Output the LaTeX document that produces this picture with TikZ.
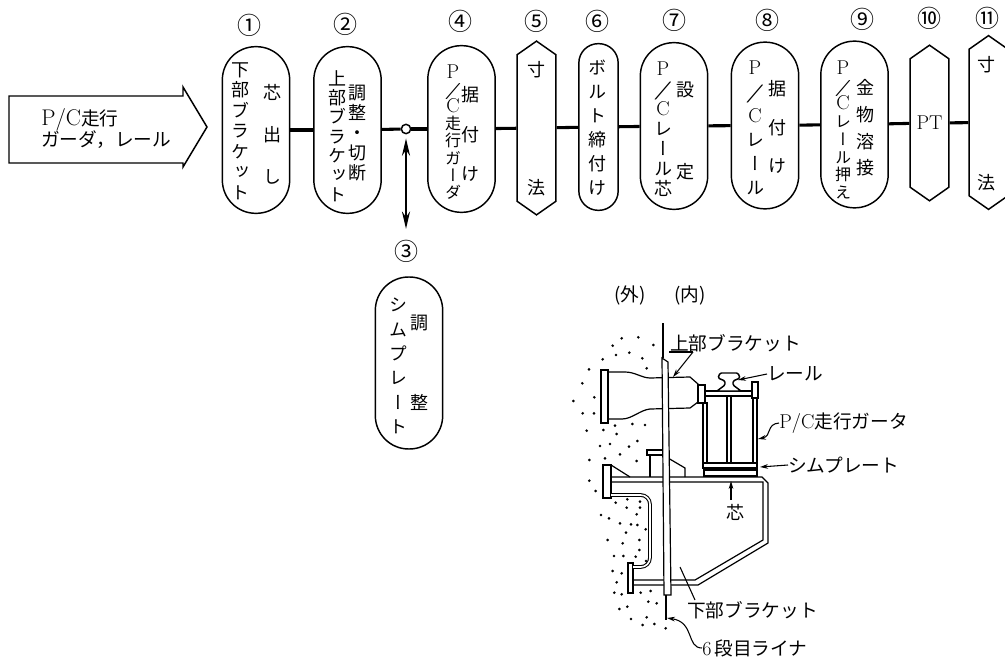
\documentclass[tikz,border=0pt]{standalone}
\usepackage{fontspec}
\usetikzlibrary{arrows.meta, shapes.symbols}
\newfontfamily\cjk{Noto Sans CJK JP}
\newfontfamily\cjkv[RawFeature=+vert]{Noto Sans CJK JP}
\newcommand{\lat}[2][15]{{\normalfont\fontsize{#1}{#1}\selectfont #2}}
\newcommand{\slashpc}{\smash{\scalebox{2.4}[1]{\normalfont /}}}
\tikzstyle{stepcap}=[draw, line width=1.1pt, rectangle, rounded corners=25pt, minimum width=50.5pt, minimum height=125pt, inner sep=0pt]
\tikzstyle{stepthin}=[stepcap, rounded corners=14.5pt, minimum width=29.5pt]
\tikzstyle{gauge}=[draw, line width=1.1pt, signal, signal to=north and south, signal pointer angle=110, minimum width=29pt, minimum height=110pt, inner sep=0pt]
\tikzstyle{link}=[line width=2.3pt]
\tikzstyle{num}=[font=\cjk\fontsize{18}{20}\selectfont, inner sep=0pt]
\tikzstyle{hlab}=[font=\cjk\fontsize{14}{16}\selectfont, anchor=west, inner sep=0pt]
\tikzstyle{part}=[line width=.9pt, fill=white]
\tikzstyle{leader}=[line width=.8pt, -{Stealth[length=6pt,width=3.5pt]}]
\tikzset{
	vcol/.style={font=\cjkv\fontsize{13.5}{#1}\selectfont, align=center, inner sep=0pt},
	vsmall/.style={font=\cjkv\fontsize{12}{#1}\selectfont, align=center, inner sep=0pt}
}

\begin{document}
\begin{tikzpicture}[x=0.75pt, y=-0.75pt]
	\useasboundingbox (0,0) rectangle (1005,659);

	% Feed arrow
	\draw[line width=1.1pt] (9,96) -- (183,96) -- (183,87) -- (207,127) -- (183,167) -- (183,163) -- (9,163) -- cycle;
	\node[font=\cjk\fontsize{14}{15}\selectfont, anchor=west, inner sep=0pt] (feedA) at (41,120) {\lat[17]{P/C}走行};
	\node[font=\cjk\fontsize{14}{15}\selectfont, anchor=west, inner sep=0pt] (feedB) at (41,140) {ガーダ，レール};

	% Process steps
	\node[stepcap] (c1) at (256,130) {};
	\node[stepcap] (c2) at (347.5,130) {};
	\node[stepcap] (c4) at (461.5,129) {};
	\node[gauge] (c5) at (536.5,128) {};
	\node[stepthin] (c6) at (598.5,127) {};
	\node[stepcap] (c7) at (674,126) {};
	\node[stepcap] (c8) at (765,125.5) {};
	\node[stepcap] (c9) at (854.5,124.5) {};
	\node[gauge] (c10) at (929.5,123) {\lat{PT}};
	\node[gauge] (c11) at (988.5,122.5) {};
	\node[stepcap, minimum height=129pt] (c3) at (409,363) {};
	\node[circle, draw, line width=1.1pt, fill=white, minimum size=7pt, inner sep=0pt] (junction) at (406,129) {};

	\node[num] (n1) at (249,25) {①};
	\node[num] (n2) at (345,24) {②};
	\node[num] (n3) at (406,251) {③};
	\node[num] (n4) at (460,21) {④};
	\node[num] (n5) at (536,21) {⑤};
	\node[num] (n6) at (597,21) {⑥};
	\node[num] (n7) at (674,20) {⑦};
	\node[num] (n8) at (767,20) {⑧};
	\node[num] (n9) at (862,19) {⑨};
	\node[num] (n10) at (929,18) {⑩};
	\node[num] (n11) at (987,18) {⑪};

	\draw[link] (c1) -- (c2);
	\draw[link] (c2) -- (junction);
	\draw[link] (junction) -- (c4);
	\draw[link] (c4) -- (c5);
	\draw[link] (c5) -- (c6);
	\draw[link] (c6) -- (c7);
	\draw[link] (c7) -- (c8);
	\draw[link] (c8) -- (c9);
	\draw[link] (c9) -- (c10);
	\draw[link] (c10) -- (c11);
	\draw[line width=1.8pt, {Stealth[length=13pt,width=6pt]}-{Stealth[length=13pt,width=6pt]}, shorten <=3pt, shorten >=8pt] (junction.south) -- (n3.north);

	% Step texts
	\node[vcol=15.4] (t1a) at (240,131) {下\\部\\ブ\\ラ\\ケ\\ッ\\ト};
	\node[vcol=31.5] (t1b) at (272,134) {芯\\出\\し};
	\node[vcol=14.5] (t2a) at (337,136) {上\\部\\ブ\\ラ\\ケ\\ッ\\ト};
	\node[vcol=15] (t2b) at (357,133) {調\\整\\・\\切\\断};
	\node[vsmall=12.9] (t4a) at (453,132) {\lat{P}\\\slashpc\\\lat{C}\\走\\行\\ガ\\ー\\ダ};
	\node[vcol=29.5] (t4b) at (470,134) {据\\付\\け};
	\node[vcol=88.5] (t5) at (536,129) {寸\\法};
	\node[vcol=18] (t6) at (597,128) {ボ\\ル\\ト\\締\\付\\け};
	\node[vcol=15] (t7a) at (663,129) {\lat{P}\\\slashpc\\\lat{C}\\レ\\ー\\ル\\芯};
	\node[vcol=61.5] (t7b) at (685,131) {設\\定};
	\node[vcol=18] (t8a) at (755,128) {\lat{P}\\\slashpc\\\lat{C}\\レ\\ー\\ル};
	\node[vcol=29] (t8b) at (777,127) {据\\付\\け};
	\node[vsmall=13.3] (t9a) at (843,130) {\lat{P}\\\slashpc\\\lat{C}\\レ\\ー\\ル\\押\\え};
	\node[vcol=20] (t9b) at (865,128) {金\\物\\溶\\接};
	\node[vcol=88.5] (t11) at (986,124) {寸\\法};
	\node[vcol=18.3] (t3a) at (398,366) {シ\\ム\\プ\\レ\\ー\\ト};
	\node[vcol=60] (t3b) at (419,363) {調\\整};

	% Concrete dots
	\foreach \x/\y in {305/175,355/172,278/197,400/195,328/218,288/225,248/238,367/235,207/268,380/265,187/310,223/352,160/363,188/400,222/400,200/452,250/450,285/437,337/432,375/435,290/462,240/498,270/492,327/500,352/483,300/523,208/540,255/535,350/543}{
		\fill (520+\x/3,280+\y/3) circle (1.1pt);
	}
	\foreach \x/\y in {208/62,227/93,287/128,322/118,360/125,320/143,360/143,243/165,267/175,350/163,300/190,333/193,352/195,377/208,318/218,263/240,308/250,358/240,358/270,282/288,310/288,347/290,378/303,278/333,305/340,290/367,283/398,305/403,362/398,392/393,298/447,322/440,385/425,410/430,333/477,380/472,368/495,403/492,437/505}{
		\fill (520+\x/3,460+\y/3) circle (1.1pt);
	}

	% Upper bracket
	\draw[part] (608,372) -- (625,372) .. controls (635,372) and (642,378) .. (650,378) -- (690,377) -- (698,384) -- (698,402) -- (690,408) -- (650,409) .. controls (640,410) and (632,419) .. (622,419) -- (608,419);
	\draw[part] (601,370) rectangle (608,423);
	\draw[part] (698,385) rectangle (705,403);

	% Girder, rail and shim
	\draw[part] (703,403) rectangle (707,463);
	\draw[part] (727,395) rectangle (731,463);
	\draw[part] (753,396) rectangle (757,463);
	\draw[part] (705,391) rectangle (752,396);
	\draw[part] (752,382) rectangle (758,398);
	\draw[part] (703,463) rectangle (757,468);
	\draw[part] (704,470) rectangle (757,476);
	\draw[part, line width=1.1pt, rounded corners=1pt] (720,373) -- (738,373) -- (740,378) -- (733,381) -- (733,385) -- (741,391) -- (717,391) -- (725,385) -- (725,381) -- (718,378) -- cycle;

	% Lower bracket
	\draw[line width=.9pt] (611,477) -- (762,477) -- (768,483) -- (768,543) -- (698,585) -- (633,585);
	\draw[line width=.9pt] (611,482) -- (763,482) -- (763,540) -- (695,580) -- (633,580);
	\draw[line width=.9pt] (611,465) -- (630,477);
	\draw[part] (603,465) rectangle (611,498);
	\draw[part] (628,563) rectangle (633,593);
	\draw[line width=.8pt, double, double distance=1.2pt, rounded corners=7pt] (611,495) -- (650,495) -- (650,567) -- (633,567);
	\draw[part] (647,450) rectangle (663,455);
	\draw[line width=.9pt] (650,455) -- (650,477);
	\draw[line width=.9pt] (668,458) -- (685,468) -- (685,477);

	% Liner plate
	\draw[line width=1.6pt] (663,323) -- (663,358);
	\draw[part] (662,358) -- (668,362) -- (671,595) -- (664,595) -- cycle;
	\draw[line width=1.4pt] (666,595) -- (666,620);

	% Labels and leaders
	\node[font=\cjk\fontsize{14}{16}\selectfont, inner sep=0pt] (outer) at (630,295) {(外)};
	\node[font=\cjk\fontsize{14}{16}\selectfont, inner sep=0pt] (inner) at (690,295) {(内)};
	\node[hlab] (lblbracket) at (670,343) {上部ブラケット};
	\node[hlab] (lblrail) at (767,374) {レール};
	\node[hlab] (lblgirder) at (779,423) {\lat{P/C}走行ガータ};
	\node[hlab] (lblshim) at (788,465) {シムプレート};
	\node[vcol=15] (lblcore) at (735,512) {芯};
	\node[hlab] (lbllower) at (687,610) {下部ブラケット};
	\node[hlab] (lblliner) at (702,648) {\lat{6}\,段目ライナ};

	\coordinate (ubtop) at (673,377);
	\coordinate (ubfoot) at (693,352);
	\coordinate (ubstart) at (669,352);
	\coordinate (railtip) at (738,380);
	\coordinate (girdertip) at (758,439);
	\coordinate (shimtip) at (760,467);
	\coordinate (corefoot) at (731,500);
	\coordinate (coretip) at (731,481);
	\coordinate (lbfoot) at (695,600);
	\coordinate (lbtip) at (680,567);
	\coordinate (linertip) at (667,618);

	\draw[leader] (ubfoot) -- (ubtop);
	\draw[line width=.8pt] (ubstart) -- (ubfoot);
	\draw[leader] (lblrail.west) -- (railtip);
	\draw[leader] (lblgirder.west) .. controls (766,424) and (772,436) .. (girdertip);
	\draw[leader] (lblshim.west) -- (shimtip);
	\draw[leader] (corefoot) -- (coretip);
	\draw[line width=.8pt] (lbfoot) -- (lbtip);
	\draw[leader] (lblliner.west) .. controls (686,648) and (695,622) .. (linertip);
\end{tikzpicture}
\end{document}
